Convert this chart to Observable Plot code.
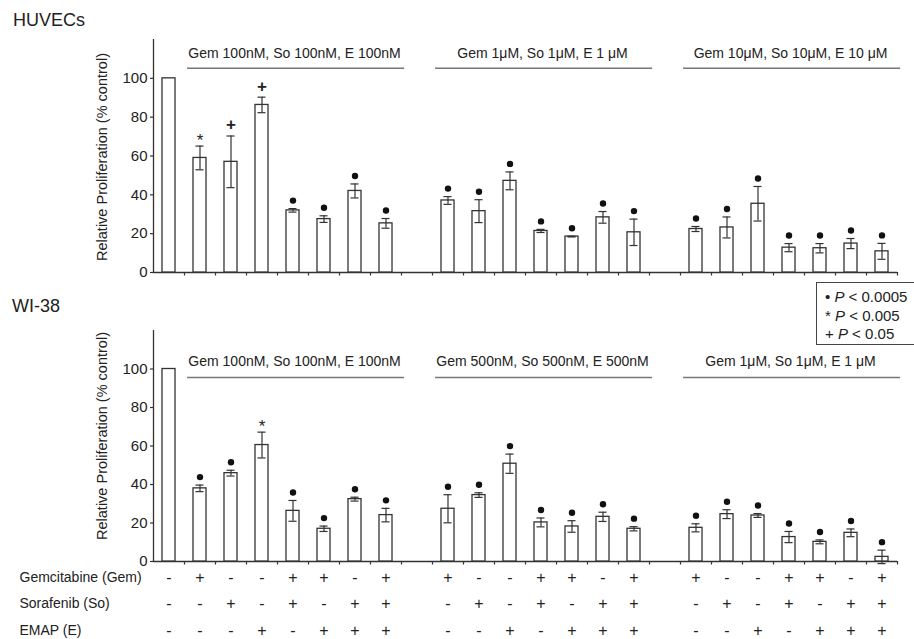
<!DOCTYPE html>
<html><head><meta charset="utf-8">
<script src="https://cdn.jsdelivr.net/npm/d3@7"></script>
<script src="https://cdn.jsdelivr.net/npm/@observablehq/plot@0.6"></script>
<style>
body{margin:0;background:#fff;font-family:"Liberation Sans",Arial,sans-serif;color:#222;}
#root{position:relative;width:914px;height:639px;overflow:hidden;}
.title{position:absolute;font-size:18px;line-height:18px;color:#222;}
.legend{position:absolute;left:816px;top:282px;width:110px;height:63px;border:1px solid #444;box-sizing:border-box;padding:5px 0 0 8px;font-size:15px;line-height:18.5px;color:#222;white-space:nowrap;}
.legend i{font-style:italic;}
svg{display:block;}
</style></head><body>
<div id="root">
  <div class="title" style="left:13px;top:11px">HUVECs</div>
  <div id="top"></div>
  <div class="title" style="left:12px;top:297px">WI-38</div>
  <div id="bottom"></div>
  <div class="legend">• <i>P</i> &lt; 0.0005<br>* <i>P</i> &lt; 0.005<br>+ <i>P</i> &lt; 0.05</div>
</div>
<script>
// ---- data ----
const gemRow = ["-","+","-","-","+","+","-","+"];
const soRow  = ["-","-","+","-","+","-","+","+"];
const eRow   = ["-","-","-","+","-","+","+","+"];
const rowLabels = ["Gemcitabine (Gem)", "Sorafenib (So)", "EMAP (E)"];
const yTicks = [0, 20, 40, 60, 80, 100];

const huvecGroups = ["Gem 100nM, So 100nM, E 100nM", "Gem 1\u03bcM, So 1\u03bcM, E 1 \u03bcM", "Gem 10\u03bcM, So 10\u03bcM, E 10 \u03bcM"];
const huvecMean = [100, 59, 57, 86.3, 32, 27.5, 42, 25.3, 37.1, 31.6, 47.2, 21.4, 18.5, 28.4, 20.7, 22.4, 23.2, 35.4, 12.8, 12.5, 14.9, 10.9];
const huvecErr  = [0, 6.1, 13.3, 4, 0.9, 1.7, 3.6, 2.5, 2, 5.9, 4.6, 0.8, 0.2, 3, 6.8, 1.3, 5.4, 8.9, 2.1, 2.4, 2.6, 4.1];
const huvecSig  = ["", "*", "+", "+", "•", "•", "•", "•", "•", "•", "•", "•", "•", "•", "•", "•", "•", "•", "•", "•", "•", "•"];

const wi38Groups = ["Gem 100nM, So 100nM, E 100nM", "Gem 500nM, So 500nM, E 500nM", "Gem 1\u03bcM, So 1\u03bcM, E 1 \u03bcM"];
const wi38Mean = [100, 38, 45.9, 60.5, 26.3, 17, 32.4, 24.1, 27.4, 34.5, 50.8, 20.3, 18.2, 23.2, 17, 17.5, 24.6, 23.9, 12.7, 10.2, 14.9, 2.4];
const wi38Err  = [0, 1.7, 1.5, 6.7, 5.4, 1.4, 1, 3.5, 7.3, 1.2, 5, 2.3, 3, 2.4, 1.1, 2.1, 2.3, 1, 2.9, 1, 2, 3.5];
const wi38Sig  = ["", "•", "•", "*", "•", "•", "•", "•", "•", "•", "•", "•", "•", "•", "•", "•", "•", "•", "•", "•", "•", "•"];

// ---- helpers ----
function slotOf(k) { return k === 0 ? 0 : 1 + Math.floor((k - 1) / 7) * 8 + (k - 1) % 7; }
function patternOf(k) { return k === 0 ? 0 : 1 + (k - 1) % 7; }
const groupStarts = [1, 9, 17];
const INK = "#333";
const FONT = "'Liberation Sans', Arial, sans-serif";

function panel({means, errs, sigs, groups, height, marginBottom, labelY, lineY, table, ylabelDy}) {
  const data = means.map((m, k) => ({k, slot: slotOf(k), c: slotOf(k) + 0.5, m, e: errs[k], top: m + errs[k], sig: sigs[k], p: patternOf(k)}));
  const withErr = data.filter(d => d.e > 0);
  const gdata = groups.map((g, i) => ({g, s: groupStarts[i]}));
  const marks = [
    Plot.axisX({ticks: d3.range(1, 25), tickFormat: () => "", tickSize: 3.5, label: null, stroke: INK, strokeWidth: 1.2}),
    Plot.axisY({ticks: yTicks, tickSize: 3, tickPadding: 3, fontSize: 15, label: null, stroke: INK, strokeWidth: 1.2, fill: "#222"}),
    Plot.ruleY([0], {x1: 0, x2: 24, stroke: INK, strokeWidth: 1.3}),
    Plot.ruleX([0], {y1: 0, y2: 120, stroke: INK, strokeWidth: 1.3}),
    Plot.rectY(data, {x1: d => d.slot + 0.29, x2: d => d.slot + 0.71, y1: 0, y2: "m", fill: "white", stroke: INK, strokeWidth: 1.3}),
    Plot.ruleX(withErr, {x: "c", y1: d => d.m - d.e, y2: "top", stroke: INK, strokeWidth: 1.2}),
    Plot.ruleY(withErr, {x1: d => d.c - 0.13, x2: d => d.c + 0.13, y: "top", stroke: INK, strokeWidth: 1.2}),
    Plot.ruleY(withErr, {x1: d => d.c - 0.13, x2: d => d.c + 0.13, y: d => d.m - d.e, stroke: INK, strokeWidth: 1.2}),
    Plot.dot(data.filter(d => d.sig === "•"), {x: "c", y: "top", dy: -8, r: 3.2, fill: "#111", stroke: "none"}),
    Plot.text(data.filter(d => d.sig === "*"), {x: "c", y: "top", text: "sig", dy: -6, fontSize: 17, fill: "#222"}),
    Plot.text(data.filter(d => d.sig === "+"), {x: "c", y: "top", text: "sig", dy: -11, fontSize: 17, fontWeight: "bold", fill: "#222"}),
    Plot.text(gdata, {x: d => d.s + 3.55, y: labelY, text: "g", fontSize: 14, fill: "#222"}),
    Plot.ruleY(gdata, {x1: d => d.s + 0.1, x2: d => d.s + 7.1, y: lineY, stroke: "#777", strokeWidth: 1.6}),
    Plot.text(["Relative Proliferation (% control)"], {frameAnchor: "left", dx: -51, dy: ylabelDy, rotate: -90, textAnchor: "middle", text: d => d, fontSize: 14.5, fill: "#222"})
  ];
  if (table) {
    const rows = [gemRow, soRow, eRow];
    const offs = [16, 42, 69];
    rows.forEach((row, r) => {
      marks.push(Plot.text(data, {x: "c", y: 0, text: d => row[d.p], dy: offs[r], fontSize: 16, fill: "#222"}));
      marks.push(Plot.text([rowLabels[r]], {y: 0, frameAnchor: "left", dx: -134, dy: offs[r], text: d => d, textAnchor: "start", fontSize: 14, fill: "#222"}));
    });
  }
  return Plot.plot({
    width: 914, height,
    marginLeft: 153, marginRight: 17, marginTop: 39, marginBottom,
    x: {type: "linear", domain: [0, 24], axis: null, label: null},
    y: {domain: [0, 120], axis: null, label: null},
    style: {fontFamily: FONT, background: "transparent", overflow: "visible"},
    marks
  });
}

document.getElementById("top").append(panel({
  means: huvecMean, errs: huvecErr, sigs: huvecSig, groups: huvecGroups,
  height: 291, marginBottom: 19, labelY: 112.9, lineY: 105.2, table: false, ylabelDy: 1
}));
document.getElementById("bottom").append(panel({
  means: wi38Mean, errs: wi38Err, sigs: wi38Sig, groups: wi38Groups,
  height: 348, marginBottom: 78, labelY: 103.9, lineY: 95.6, table: true, ylabelDy: -10
}));
</script>
</body></html>
